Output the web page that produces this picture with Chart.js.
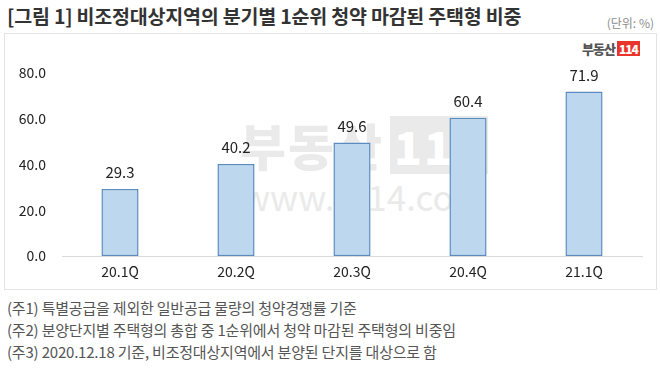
<!DOCTYPE html>
<html>
<head>
<meta charset="utf-8">
<script src="https://cdn.jsdelivr.net/npm/chart.js@4.4.0/dist/chart.umd.min.js"></script>
<style>
  body { margin: 0; background: #fff; font-family: "Noto Sans CJK KR", "Noto Sans", sans-serif; }
  .wrap { position: relative; width: 660px; height: 368px; overflow: hidden; }
  .title { position: absolute; left: 7px; top: 1px; font-size: 19.5px; font-weight: 700; color: #333; letter-spacing: -0.2px; }
  .unit { position: absolute; right: 6px; top: 14px; font-size: 12px; color: #8c8c8c; }
  .box { position: absolute; left: 4px; top: 33px; width: 651px; height: 255px; border: 1px solid #e3e3e3; }
  .logo { position: absolute; left: 582px; top: 39px; font-size: 13px; font-weight: 900; color: #555; letter-spacing: -1px; }
  .logo span { display: inline-block; background: #e8342b; color: #fff; font-size: 12px; padding: 0 2px; margin-left: 2px; line-height: 15px; }
  .wm1 { position: absolute; left: 240px; top: 108px; font-size: 50px; font-weight: 900; color: #eaeaea; letter-spacing: 2px; }
  .wm1 span { display: inline-block; background: #eaeaea; color: #fff; font-size: 46px; padding: 0 4px; margin-left: 6px; line-height: 58px; vertical-align: top; margin-top: 8px; }
  .wm2 { position: absolute; left: 242px; top: 170px; font-size: 35px; color: #eaeaea; }
  canvas { position: absolute; left: 4px; top: 33px; }
  .notes { position: absolute; left: 7px; top: 297px; font-size: 15px; color: #555; line-height: 22px; letter-spacing: -0.2px; }
</style>
</head>
<body>
<div class="wrap">
  <div class="title">[그림 1] 비조정대상지역의 분기별 1순위 청약 마감된 주택형 비중</div>
  <div class="unit">(단위: %)</div>
  <div class="box"></div>
  <div class="wm1">부동산<span>114</span></div>
  <div class="wm2">www.r114.com</div>
  <div class="logo">부동산<span>114</span></div>
  <canvas id="c" width="652" height="256"></canvas>
  <div class="notes">
    (주1) 특별공급을 제외한 일반공급 물량의 청약경쟁률 기준<br>
    (주2) 분양단지별 주택형의 총합 중 1순위에서 청약 마감된 주택형의 비중임<br>
    (주3) 2020.12.18 기준, 비조정대상지역에서 분양된 단지를 대상으로 함
  </div>
</div>
<script>
  const quarters = ['20.1Q', '20.2Q', '20.3Q', '20.4Q', '21.1Q'];
  const shares = [29.3, 40.2, 49.6, 60.4, 71.9];
  const yTicks = [0, 20, 40, 60, 80];

  const font = '"Noto Sans CJK KR", "Noto Sans", sans-serif';

  // 막대 위 값 표시
  const valueLabels = {
    id: 'valueLabels',
    afterDatasetsDraw(chart) {
      const ctx = chart.ctx;
      const meta = chart.getDatasetMeta(0);
      ctx.save();
      ctx.font = '15px ' + font;
      ctx.fillStyle = '#222';
      ctx.textAlign = 'center';
      ctx.textBaseline = 'bottom';
      meta.data.forEach((bar, i) => {
        ctx.fillText(shares[i].toFixed(1), bar.x, bar.y - 9);
      });
      ctx.restore();
    }
  };

  new Chart(document.getElementById('c'), {
    type: 'bar',
    data: {
      labels: quarters,
      datasets: [{
        data: shares,
        backgroundColor: '#bdd7ee',
        borderColor: '#5b8cc0',
        borderWidth: 1.5,
        borderSkipped: false,
        barPercentage: 0.32,
        categoryPercentage: 1
      }]
    },
    options: {
      responsive: false,
      animation: false,
      layout: { padding: { left: 0, right: 14, top: 40, bottom: 0 } },
      plugins: { legend: { display: false }, tooltip: { enabled: false } },
      scales: {
        x: {
          grid: { display: false, drawTicks: false },
          border: { display: true, color: '#d9d9d9' },
          ticks: { color: '#222', font: { size: 14, family: font }, padding: 7 },
          afterFit: (s) => { s.height = 33; }
        },
        y: {
          min: 0,
          max: 80,
          afterBuildTicks: (s) => { s.ticks = yTicks.map(v => ({ value: v })); },
          grid: { display: false, drawTicks: false },
          border: { display: false },
          ticks: { color: '#222', font: { size: 14, family: font }, padding: 16,
            callback: (v) => v.toFixed(1) },
          afterFit: (s) => { s.width = 58; }
        }
      }
    },
    plugins: [valueLabels]
  });
</script>
</body>
</html>
